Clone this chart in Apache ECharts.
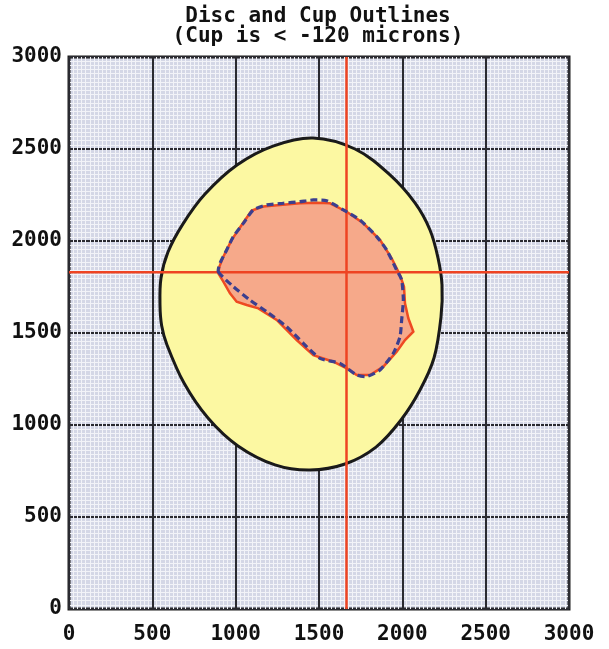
<!DOCTYPE html>
<html>
<head>
<meta charset="utf-8">
<script src="https://cdn.jsdelivr.net/npm/echarts@6/dist/echarts.min.js"></script>
<style>
html,body{margin:0;padding:0;background:#fff;}
#chart{width:609px;height:649px;}
</style>
</head>
<body>
<div id="chart"></div>
<script>
// Axis ticks
const xTicks = [0, 500, 1000, 1500, 2000, 2500, 3000];
const yTicks = [0, 500, 1000, 1500, 2000, 2500, 3000];

// Disc outline (clockwise from top)
const discX = [1464,1716,1926,2076,2166,2214,2238,2232,2190,2106,1992,1842,1656,1446,1236,1014,834,690,588,556,546,552,594,684,816,1008,1224];
const discY = [2560,2500,2359,2207,2060,1908,1761,1587,1364,1190,1027,880,788,755,783,886,1038,1228,1435,1540,1652,1799,1940,2093,2255,2413,2516];

// Cup outline (red, measured)
const cupX = [896,926,966,1006,1066,1136,1246,1366,1466,1586,1666,1726,1806,1886,1966,2016,2066,2036,2016,2010,1986,1936,1866,1766,1666,1566,1486,1386,1266,1166,1096,1036,976,926,902];
const cupY = [1824,1779,1716,1670,1652,1634,1571,1462,1380,1344,1308,1272,1272,1317,1398,1462,1507,1580,1661,1752,1815,1906,2006,2096,2159,2205,2208,2205,2196,2187,2165,2087,2006,1915,1860];

// Cup outline (blue dashed, fitted)
const fitX = [896,986,1086,1186,1306,1406,1506,1626,1726,1786,1866,1946,1986,1996,2006,1996,1966,1906,1846,1746,1646,1546,1466,1386,1286,1186,1106,1046,986,946,906];
const fitY = [1833,1752,1679,1616,1534,1444,1362,1335,1272,1263,1299,1390,1480,1571,1679,1788,1842,1951,2024,2114,2169,2219,2223,2214,2205,2196,2169,2096,2024,1951,1879];

// Crosshair position
const crossX = 1665;
const crossY = 1830;

function polySeries(name, xs, ys, style, smooth, z) {
  return {
    type: 'custom',
    name: name,
    coordinateSystem: 'cartesian2d',
    data: xs.map((x, i) => [x, ys[i]]),
    z: z,
    clip: true,
    renderItem: function (params, api) {
      if (params.dataIndex !== 0) return null;
      const pts = xs.map((x, i) => api.coord([x, ys[i]]));
      return {
        type: 'polygon',
        shape: { points: pts, smooth: smooth },
        style: style
      };
    }
  };
}

const chart = echarts.init(document.getElementById('chart'), null, { renderer: 'canvas' });
const labelFont = { fontFamily: 'DejaVu Sans Mono', fontWeight: 'bold', fontSize: 21, color: '#111' };

chart.setOption({
  animation: false,
  backgroundColor: '#ffffff',
  graphic: [{
    type: 'text',
    z: 100,
    style: {
      text: 'Disc and Cup Outlines\n(Cup is < -120 microns)',
      x: 318, y: 7,
      textAlign: 'center',
      fontFamily: 'DejaVu Sans Mono',
      fontWeight: 'bold',
      fontSize: 21,
      lineHeight: 20,
      fill: '#111'
    }
  }],
  grid: {
    left: 69, top: 57, width: 500, height: 552,
    show: true,
    backgroundColor: '#d4d7e6',
    borderColor: '#1c1c1c',
    borderWidth: 3
  },
  xAxis: {
    type: 'value', min: xTicks[0], max: xTicks[xTicks.length - 1], interval: 500,
    axisLine: { show: false },
    axisTick: { show: false },
    axisLabel: Object.assign({ margin: 15, formatter: v => xTicks.includes(v) ? String(v) : '' }, labelFont),
    splitLine: { show: true, lineStyle: { color: '#2a2a30', width: 2 } },
    minorTick: { show: false, splitNumber: 20 },
    minorSplitLine: { show: true, lineStyle: { color: '#f2f3f8', width: 1 } }
  },
  yAxis: {
    type: 'value', min: yTicks[0], max: yTicks[yTicks.length - 1], interval: 500,
    axisLine: { show: false },
    axisTick: { show: false },
    axisLabel: Object.assign({ margin: 7, formatter: v => yTicks.includes(v) ? String(v) : '' }, labelFont),
    splitLine: { show: true, lineStyle: { color: '#2a2a30', width: 2 } },
    minorTick: { show: false, splitNumber: 22 },
    minorSplitLine: { show: true, lineStyle: { color: '#f2f3f8', width: 1 } }
  },
  series: [
    polySeries('Disc', discX, discY, { fill: '#fcf8a2', stroke: '#1a1a1a', lineWidth: 3 }, 0.35, 2),
    polySeries('Cup', cupX, cupY, { fill: '#f6a98a', stroke: '#ee4a22', lineWidth: 2.5 }, 0, 3),
    {
      type: 'line', name: 'crossV', z: 4, silent: true, symbol: 'none',
      data: [[crossX, yTicks[0]], [crossX, yTicks[yTicks.length - 1]]],
      lineStyle: { color: '#ee4422', width: 2.5 }
    },
    {
      type: 'line', name: 'crossH', z: 4, silent: true, symbol: 'none',
      data: [[xTicks[0], crossY], [xTicks[xTicks.length - 1], crossY]],
      lineStyle: { color: '#ee4422', width: 2.5 }
    },
    polySeries('Fit', fitX, fitY, { fill: 'none', stroke: '#3b3f8f', lineWidth: 3.2, lineDash: [7, 4] }, 0.2, 5)
  ]
});
</script>
</body>
</html>
